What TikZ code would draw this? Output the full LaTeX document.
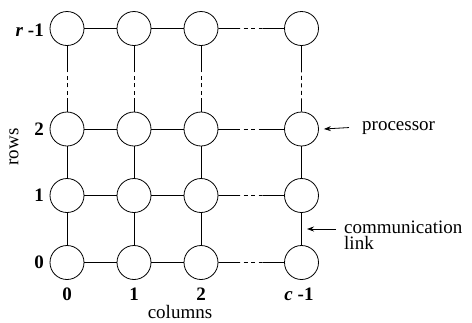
\documentclass[tikz,border=0pt]{standalone}
\usepackage{fontspec}
\setmainfont{Liberation Serif}
\usetikzlibrary{arrows.meta,calc}
\begin{document}
\begin{tikzpicture}[x=1pt,y=-1pt,
  proc/.style={circle,draw,line width=0.8pt,minimum size=34pt,inner sep=0pt},
  link/.style={line width=0.8pt},
  gaplink/.style={line width=0.8pt,dash pattern=on 4pt off 3.5pt,dash phase=4pt},
  lab/.style={font=\fontsize{19}{16}\selectfont,inner sep=0pt},
  idx/.style={font=\fontsize{19}{16}\selectfont\bfseries,inner sep=0pt},
  arr/.style={line width=0.8pt,-{Stealth[length=7pt,width=5pt]}}]
\useasboundingbox (0,0) rectangle (472,322);

% processor grid: columns 0,1,2,c-1 ; rows 0,1,2,r-1
\foreach \c/\x in {0/67,1/134,2/201,3/301.5}{
  \foreach \r/\y in {0/262.5,1/195.5,2/129,3/28.5}{
    \node[proc] (n-\r-\c) at (\x,\y) {};
  }
}

% solid links
\foreach \r in {0,1,2,3}{
  \draw[link] (n-\r-0) -- (n-\r-1);
  \draw[link] (n-\r-1) -- (n-\r-2);
}
\foreach \c in {0,1,2,3}{
  \draw[link] (n-0-\c) -- (n-1-\c);
  \draw[link] (n-1-\c) -- (n-2-\c);
}

% elided links: solid, dashed, solid
\foreach \r in {0,1,2,3}{
  \coordinate (ha-\r) at ($(n-\r-2.east)!0.33!(n-\r-3.west)$);
  \coordinate (hb-\r) at ($(n-\r-2.east)!0.67!(n-\r-3.west)$);
  \draw[link] (n-\r-2) -- (ha-\r);
  \draw[gaplink] (ha-\r) -- (hb-\r);
  \draw[link] (hb-\r) -- (n-\r-3);
}
\foreach \c in {0,1,2,3}{
  \coordinate (va-\c) at ($(n-2-\c.north)!0.2!(n-3-\c.south)$);
  \coordinate (vb-\c) at ($(n-2-\c.north)!0.62!(n-3-\c.south)$);
  \draw[link] (n-2-\c) -- (va-\c);
  \draw[gaplink] (va-\c) -- (vb-\c);
  \draw[link] (vb-\c) -- (n-3-\c);
}

% row indices
\node[idx,anchor=east] (r0) at (44,262.5) {0};
\node[idx,anchor=east] (r1) at (44,195.5) {1};
\node[idx,anchor=east] (r2) at (44,129) {2};
\node[idx,anchor=east] (r3) at (44,30) {\textit{r} -1};
\node[lab,rotate=90] (rows) at (14,147) {rows};

% column indices
\node[idx,anchor=north] (c0) at (67,288) {0};
\node[idx,anchor=north] (c1) at (134,288) {1};
\node[idx,anchor=north] (c2) at (201,288) {2};
\node[idx,anchor=north] (c3) at (299,288) {\textit{c} -1};
\node[lab,anchor=base] (cols) at (180,318.5) {columns};

% annotations
\node[lab,anchor=base west] (ptext) at (362,130) {processor};
\draw[arr] ([xshift=-13pt]ptext.west) -- ([xshift=5pt]n-2-3.east);

\coordinate (lk) at ($(n-0-3.north)!0.5!(n-1-3.south)$);
\node[lab,anchor=west,align=left] (ltext) at (344,235.5) {communication\\link};
\draw[arr] ([xshift=-8pt]ltext.west |- 0,229) -- ([xshift=5.5pt]lk |- 0,229);
\end{tikzpicture}
\end{document}
